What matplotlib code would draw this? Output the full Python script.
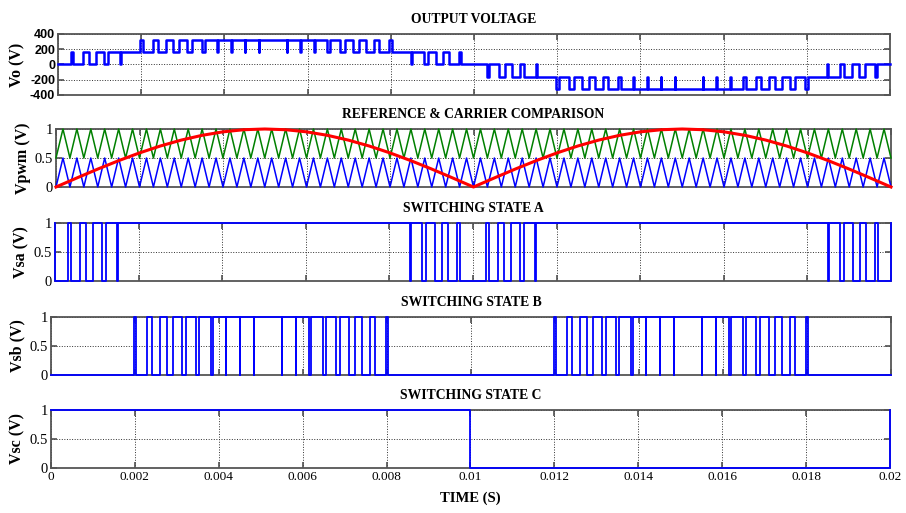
import matplotlib.pyplot as plt
import numpy as np

t_end = 0.02
xticks = [0, 0.002, 0.004, 0.006, 0.008, 0.01, 0.012, 0.014, 0.016, 0.018, 0.02]
xtick_labels = ['0', '0.002', '0.004', '0.006', '0.008', '0.01',
                '0.012', '0.014', '0.016', '0.018', '0.02']

# rectified sine reference, one sample every 0.5 ms
ref_t = [0.0, 0.0005, 0.001, 0.0015, 0.002, 0.0025, 0.003, 0.0035, 0.004, 0.0045,
         0.005, 0.0055, 0.006, 0.0065, 0.007, 0.0075, 0.008, 0.0085, 0.009, 0.0095,
         0.01, 0.0105, 0.011, 0.0115, 0.012, 0.0125, 0.013, 0.0135, 0.014, 0.0145,
         0.015, 0.0155, 0.016, 0.0165, 0.017, 0.0175, 0.018, 0.0185, 0.019, 0.0195, 0.02]
ref_v = [0.0, 0.1564, 0.3090, 0.4540, 0.5878, 0.7071, 0.8090, 0.8910, 0.9511, 0.9877,
         1.0, 0.9877, 0.9511, 0.8910, 0.8090, 0.7071, 0.5878, 0.4540, 0.3090, 0.1564,
         0.0, 0.1564, 0.3090, 0.4540, 0.5878, 0.7071, 0.8090, 0.8910, 0.9511, 0.9877,
         1.0, 0.9877, 0.9511, 0.8910, 0.8090, 0.7071, 0.5878, 0.4540, 0.3090, 0.1564, 0.0]

# level shifted triangular carriers, 60 cycles in 20 ms
carrier_cycles = 60
carrier_low = [0.0, 0.5]
carrier_high = [0.5, 1.0]

# gate signals: initial level and switching instants (s)
vsa_start = 1
vsa_edges = [0.0,
             0.0003017, 0.0003722, 0.0006038, 0.0007438, 0.0009063, 0.0011143, 0.0012097, 0.0014831, 0.0015140,
             0.0084860, 0.0085169, 0.0087903, 0.0088857, 0.0090937, 0.0092562, 0.0093962, 0.0096278, 0.0096983,
             0.0103017, 0.0103722, 0.0106038, 0.0107438, 0.0109063, 0.0111143, 0.0112097, 0.0114831, 0.0115140,
             0.0184860, 0.0185169, 0.0187903, 0.0188857, 0.0190937, 0.0192562, 0.0193962, 0.0196278, 0.0196983,
             0.02]

vsb_start = 0
vsb_edges = [0.0019730, 0.0020320, 0.0022810, 0.0023944, 0.0025910, 0.0027537, 0.0029031, 0.0031097,
             0.0032176, 0.0034618, 0.0035347, 0.0038103, 0.0038547, 0.0041550, 0.0041777, 0.0044958,
             0.0045040, 0.0048329, 0.0048338, 0.0054960, 0.0055042, 0.0058223, 0.0058450, 0.0061453,
             0.0061897, 0.0064653, 0.0065382, 0.0067824, 0.0068903, 0.0070969, 0.0072463, 0.0074090,
             0.0076056, 0.0077190, 0.0079680, 0.0080270,
             0.0119730, 0.0120320, 0.0122810, 0.0123944, 0.0125910, 0.0127537, 0.0129031, 0.0131097,
             0.0132176, 0.0134618, 0.0135347, 0.0138103, 0.0138547, 0.0141550, 0.0141777, 0.0144958,
             0.0145040, 0.0148329, 0.0148338, 0.0154960, 0.0155042, 0.0158223, 0.0158450, 0.0161453,
             0.0161897, 0.0164653, 0.0165382, 0.0167824, 0.0168903, 0.0170969, 0.0172463, 0.0174090,
             0.0176056, 0.0177190, 0.0179680, 0.0180270]

vsc_start = 1
vsc_edges = [0.01, 0.02]

vdc = 160  # volts per cell


def step_xy(start, edges):
    x = [0.0]
    y = [start]
    lvl = start
    for e in edges:
        x += [e, e]
        y += [lvl, 1 - lvl]
        lvl = 1 - lvl
    x.append(t_end)
    y.append(lvl)
    return x, y


def level_at(start, edges, t):
    n = np.searchsorted(edges, t, side='right')
    return np.where(n % 2 == 0, start, 1 - start)


# output voltage from the three gate signals
grid = np.unique(np.concatenate([[0.0], vsa_edges, vsb_edges, vsc_edges]))
grid = grid[grid < t_end]
sa = level_at(vsa_start, vsa_edges, grid)
sb = level_at(vsb_start, vsb_edges, grid)
sc = level_at(vsc_start, vsc_edges, grid)
vo = vdc * (sa + sb) * (2 * sc - 1)
vo_t = np.append(grid, t_end)
vo = np.append(vo, vo[-1])

ct = np.linspace(0, t_end, 2 * carrier_cycles + 1)
c_low = np.resize(carrier_low, ct.size)
c_high = np.resize(carrier_high, ct.size)

W, H = 906, 513
fig = plt.figure(figsize=(9.06, 5.13), dpi=100)


def panel(x0, x1, y0, y1):
    return fig.add_axes([x0 / W, 1 - y1 / H, (x1 - x0) / W, (y1 - y0) / H])


title_font = dict(family='Liberation Serif', fontweight='bold', fontsize=9.8)
label_font = dict(family='Liberation Serif', fontweight='bold', fontsize=11.5)


def style(ax, ylim, yticks, title, ylabel, bottom=False, tick_family='Liberation Serif', tick_size=10.5):
    ax.set_xlim(0, t_end)
    ax.set_ylim(*ylim)
    ax.set_xticks(xticks)
    ax.set_yticks(yticks)
    ax.grid(True, linestyle=':', color='#303030', linewidth=0.7)
    ax.tick_params(direction='in', top=True, right=True, length=4, width=1.2,
                   color='#505050', labelcolor='black', pad=2)
    for s in ax.spines.values():
        s.set_color('#555555')
        s.set_linewidth(1.3)
    if bottom:
        ax.set_xticklabels(xtick_labels, family='Liberation Serif', fontsize=9.5)
    else:
        ax.set_xticklabels([])
    for lab in ax.get_yticklabels():
        lab.set_family(tick_family)
        lab.set_fontsize(tick_size)
    ax.set_title(title, pad=8, **title_font)
    ax.set_ylabel(ylabel, labelpad=3, **label_font)


ax1 = panel(58, 890, 34, 95)
ax1.plot(vo_t, vo, color='#0000ff', linewidth=1.8, drawstyle='steps-post', clip_on=False, zorder=3)
style(ax1, (-400, 400), [-400, -200, 0, 200, 400], 'OUTPUT VOLTAGE', 'Vo (V)')
ax1.set_yticklabels(['-400', '-200', '0', '200', '400'], family='Liberation Sans',
                    fontsize=9, fontweight='bold')

ax2 = panel(56, 891, 129, 187)
ax2.plot(ct, c_low, color='#0000ff', linewidth=1.1, clip_on=False, zorder=3)
ax2.plot(ct, c_high, color='#008000', linewidth=1.1, clip_on=False, zorder=3)
ax2.plot(ref_t, ref_v, color='#ff0000', linewidth=2.2, clip_on=False, zorder=4)
style(ax2, (0, 1), [0, 0.5, 1], 'REFERENCE & CARRIER COMPARISON', 'Vpwm (V)')
ax2.set_yticklabels(['0', '0.5', '1'])

signals = [
    ((55, 891, 223, 281), vsa_start, vsa_edges, 'SWITCHING STATE A', 'Vsa (V)'),
    ((51, 891, 317, 375), vsb_start, vsb_edges, 'SWITCHING STATE B', 'Vsb (V)'),
    ((51, 890, 410, 468), vsc_start, vsc_edges, 'SWITCHING STATE C', 'Vsc (V)'),
]
for i, (box, start, edges, title, ylab) in enumerate(signals):
    ax = panel(*box)
    x, y = step_xy(start, edges)
    ax.plot(x, y, color='#0000ff', linewidth=1.3, clip_on=False, zorder=3)
    style(ax, (0, 1), [0, 0.5, 1], title, ylab, bottom=(i == 2))
    ax.set_yticklabels(['0', '0.5', '1'])
    if i == 2:
        ax.set_xlabel('TIME (S)', labelpad=6, family='Liberation Serif',
                      fontweight='bold', fontsize=10.5)

fig.savefig('out.png', dpi=100)
